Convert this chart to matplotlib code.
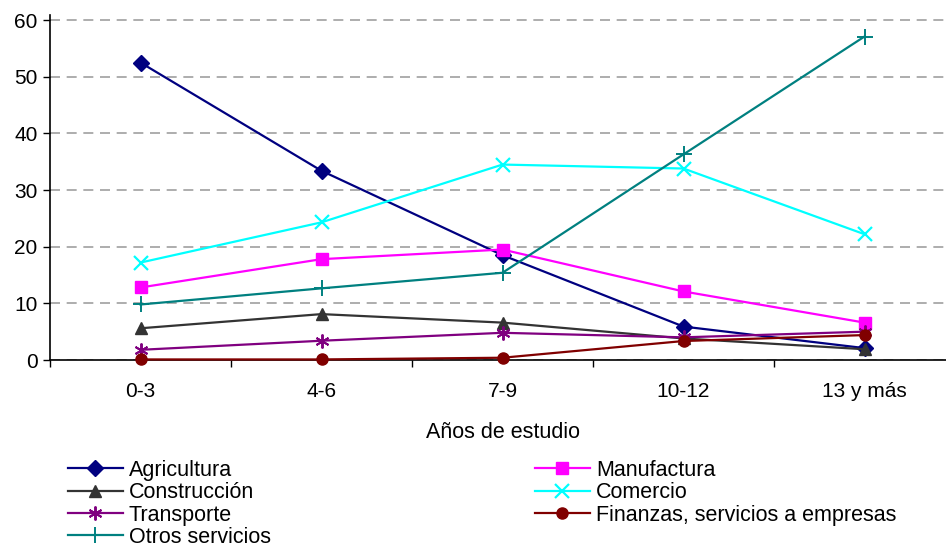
import matplotlib
matplotlib.use("Agg")
import matplotlib.pyplot as plt
from matplotlib.font_manager import FontProperties

plt.rcParams['font.family'] = ['Liberation Sans', 'DejaVu Sans']

categories = ["0-3", "4-6", "7-9", "10-12", "13 y más"]
agricultura = [52.5, 33.4, 18.5, 5.9, 2.1]
manufactura = [12.8, 17.8, 19.5, 12.1, 6.6]
construccion = [5.6, 8.1, 6.6, 3.8, 1.9]
comercio = [17.2, 24.3, 34.5, 33.8, 22.2]
transporte = [1.8, 3.4, 4.8, 4.0, 5.0]
finanzas = [0.1, 0.1, 0.4, 3.35, 4.4]
otros = [9.8, 12.65, 15.4, 36.3, 57.1]

W, H = 946, 548
fig = plt.figure(figsize=(W / 100, H / 100), dpi=100)
ax = fig.add_axes([50 / W, 1 - 360 / H, 905 / W, 345 / H])

x = list(range(len(categories)))
series = [
    ("Agricultura", agricultura, "#000080", "D", 8, {}),
    ("Manufactura", manufactura, "#FF00FF", "s", 8, {}),
    ("Construcción", construccion, "#333333", "^", 9, {}),
    ("Comercio", comercio, "#00FFFF", "x", 10, {"markeredgewidth": 1.6}),
    ("Transporte", transporte, "#800080", (6, 2, 0), 10, {"markeredgewidth": 1.4}),
    ("Finanzas, servicios a empresas", finanzas, "#800000", "o", 8, {}),
    ("Otros servicios", otros, "#008080", "+", 11, {"markeredgewidth": 1.4}),
]
handles = {}
for name, vals, col, mk, ms, kw in series:
    (h,) = ax.plot(x, vals, color=col, marker=mk, markersize=ms, linewidth=1.6,
                   markerfacecolor=col, markeredgecolor=col, label=name,
                   clip_on=False, zorder=3, **kw)
    handles[name] = h

ax.set_xlim(-0.5, 4.5)
ax.set_ylim(0, 60.9)
ax.set_yticks([0, 10, 20, 30, 40, 50, 60])
ax.set_xticks(x)
ax.set_xticklabels(categories)
ax.set_xticks([i - 0.5 for i in range(6)], minor=True)
ax.tick_params(axis="x", which="major", length=0, pad=16, labelsize=15)
ax.tick_params(axis="x", which="minor", length=5, width=1, direction="out")
ax.tick_params(axis="y", length=5, width=1, direction="out", labelsize=15, pad=4)
ax.yaxis.grid(True, linestyle=(0, (6, 4)), color="#A0A0A0", linewidth=1.2)
ax.set_axisbelow(True)
for s in ["top", "right"]:
    ax.spines[s].set_visible(False)
ax.spines["left"].set_linewidth(1.2)
ax.spines["bottom"].set_linewidth(1.2)
ax.set_xlabel("Años de estudio", fontsize=15.5, labelpad=15)

fp = FontProperties(family=["Liberation Sans", "DejaVu Sans"], size=15.5)
col1 = ["Agricultura", "Construcción", "Transporte", "Otros servicios"]
col2 = ["Manufactura", "Comercio", "Finanzas, servicios a empresas"]
common = dict(frameon=False, prop=fp, handlelength=2.55, handletextpad=0.28,
              labelspacing=0.06, borderaxespad=0, borderpad=0)
fig.legend([handles[n] for n in col1], col1, loc="upper left",
           bbox_to_anchor=(68 / W, 1 - 460 / H), **common)
fig.legend([handles[n] for n in col2], col2, loc="upper left",
           bbox_to_anchor=(535 / W, 1 - 460 / H), **common)

fig.savefig("out.png", dpi=100)
